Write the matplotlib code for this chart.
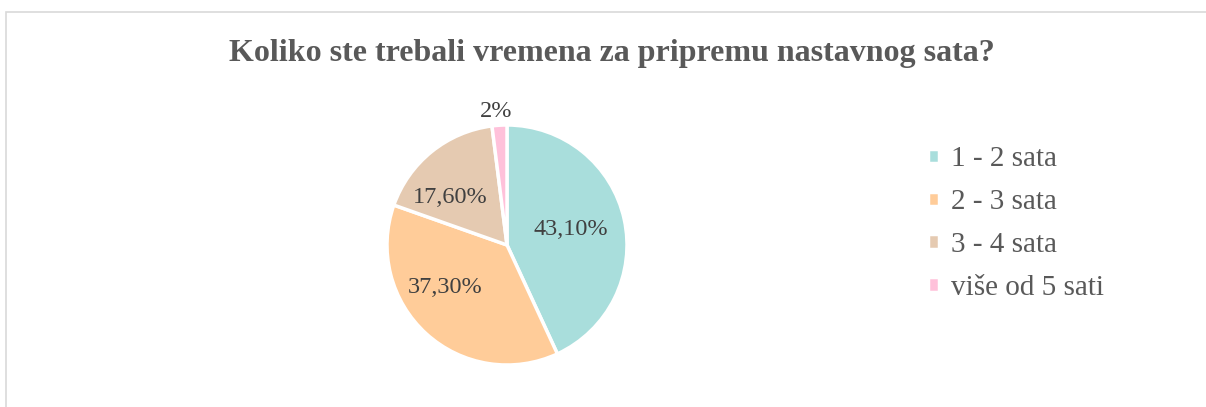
import matplotlib.pyplot as plt
import numpy as np
from matplotlib.patches import Rectangle

categories = ["1 - 2 sata", "2 - 3 sata", "3 - 4 sata", "više od 5 sati"]
shares = [43.1, 37.3, 17.6, 2.0]
value_labels = ["43,10%", "37,30%", "17,60%", "2%"]
colors = ["#A9DEDC", "#FFCC99", "#E5CAB1", "#FFC1DA"]

# label placement (radius as fraction of pie radius, angle nudge in degrees)
label_radius = [0.55, 0.615, 0.63, 1.14]
label_nudge = [3.5, -15, 9.5, 1]

W, H = 1206, 407
fig = plt.figure(figsize=(W / 100, H / 100), dpi=100)
plt.rcParams["font.family"] = ["Liberation Serif", "DejaVu Serif"]

# chart frame
fig.patches.append(Rectangle((6 / W, -0.1), 1.1, 1 - 12 / H + 0.1,
                             transform=fig.transFigure, fill=False,
                             edgecolor="#D9D9D9", linewidth=1.2))

fig.text(612 / W, 1 - 54 / H, "Koliko ste trebali vremena za pripremu nastavnog sata?",
         ha="center", va="center", fontsize=23, fontweight="bold", color="#595959")

cx, cy, r = 507, 245, 120
ax = fig.add_axes([(cx - r) / W, (H - cy - r) / H, 2 * r / W, 2 * r / H])
wedges, _ = ax.pie(shares, colors=colors, startangle=90, counterclock=False,
                   wedgeprops=dict(edgecolor="white", linewidth=2.5))
ax.set_xlim(-1, 1)
ax.set_ylim(-1, 1)
ax.set_aspect("equal")
ax.axis("off")

for w, lab, rad, nud in zip(wedges, value_labels, label_radius, label_nudge):
    mid = np.deg2rad((w.theta1 + w.theta2) / 2 + nud)
    ax.text(rad * np.cos(mid), rad * np.sin(mid) - 0.025, lab, ha="center", va="center",
            fontsize=17.5, color="#404040", clip_on=False)

fig.legend(wedges, categories, loc="upper left", bbox_to_anchor=(902 / W, 1 - 120 / H),
           frameon=False, fontsize=21, labelcolor="#595959",
           handlelength=0.38, handleheight=0.38, handletextpad=0.4, labelspacing=0.58)

fig.savefig("out.png", dpi=100, facecolor="white")
